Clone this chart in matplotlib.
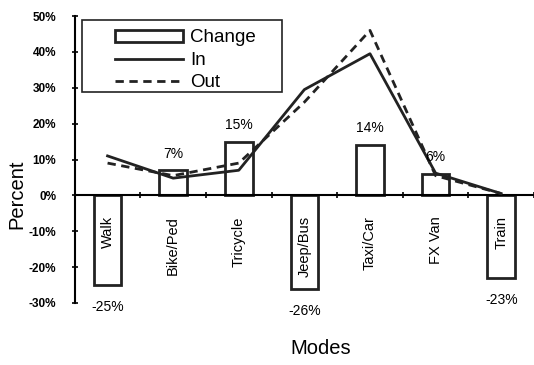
import numpy as np
import matplotlib.pyplot as plt
from matplotlib.patches import Rectangle
from matplotlib.ticker import FuncFormatter

plt.rcParams['font.family'] = ['Liberation Sans', 'DejaVu Sans']

modes = ['Walk', 'Bike/Ped', 'Tricycle', 'Jeep/Bus', 'Taxi/Car', 'FX Van', 'Train']
change = [-25, 7, 15, -26, 14, 6, -23]
share_in = [11, 4.8, 7, 29.5, 39.5, 6.2, 0.5]
share_out = [9, 5.5, 9, 26, 46, 5.5, 0.5]

x = np.arange(len(modes))

fig = plt.figure(figsize=(5.34, 3.65), dpi=100)
ax = fig.add_axes([0.140, 0.170, 0.86, 0.786])

bars = ax.bar(x, change, width=0.42, facecolor='white', edgecolor='#222222',
              linewidth=2, zorder=2)
l_in, = ax.plot(x, share_in, color='#222222', lw=2, zorder=3)
l_out, = ax.plot(x, share_out, color='#222222', lw=2, ls=(0, (3, 2)), zorder=3)

# value labels above / below each bar
for xi, v in zip(x, change):
    if v >= 0:
        ax.annotate(f'{v}%', (xi, v), xytext=(0, 7), textcoords='offset points',
                    ha='center', va='bottom', fontsize=10)
    else:
        ax.annotate(f'{v}%', (xi, v), xytext=(0, -11), textcoords='offset points',
                    ha='center', va='top', fontsize=10)

# mode names written vertically just below the zero line
for xi, name in zip(x, modes):
    ax.text(xi, -5.8, name, rotation=90, ha='center', va='top', fontsize=10.5, zorder=4)

ax.set_xlim(-0.5, 6.5)
ax.set_ylim(-30, 50)
ax.set_yticks(np.arange(-30, 51, 10))
ax.yaxis.set_major_formatter(FuncFormatter(lambda v, p: f'{int(v)}%'))
ax.set_xticks(np.arange(-0.5, 6.6, 1))
ax.set_xticklabels([])
ax.tick_params(axis='y', direction='inout', length=5, width=1.2, labelsize=8.5, pad=11)
ax.tick_params(axis='x', direction='inout', length=4, width=1.2)
for lab in ax.get_yticklabels():
    lab.set_fontweight('bold')

ax.spines['top'].set_visible(False)
ax.spines['right'].set_visible(False)
ax.spines['bottom'].set_position(('data', 0))
ax.spines['left'].set_linewidth(1.5)
ax.spines['bottom'].set_linewidth(1.5)

ax.set_ylabel('Percent', fontsize=14.5)
ax.yaxis.set_label_coords(-0.105, 0.38)
fig.text(0.60, 0.03, 'Modes', ha='center', fontsize=14.5)

# legend with a hand-drawn square frame
leg = ax.legend([bars, l_in, l_out], ['Change', 'In', 'Out'],
                loc='upper left', bbox_to_anchor=(0.06, 1.0), fontsize=13.5,
                frameon=False, handlelength=3.6, handleheight=0.6,
                borderpad=0.2, labelspacing=0.3, handletextpad=0.4)
ax.add_patch(Rectangle((0.015, 0.735), 0.437, 0.251, transform=ax.transAxes,
                       facecolor='none', edgecolor='#222222', lw=1.2,
                       clip_on=False, zorder=5))

fig.savefig('out.png', dpi=100)
